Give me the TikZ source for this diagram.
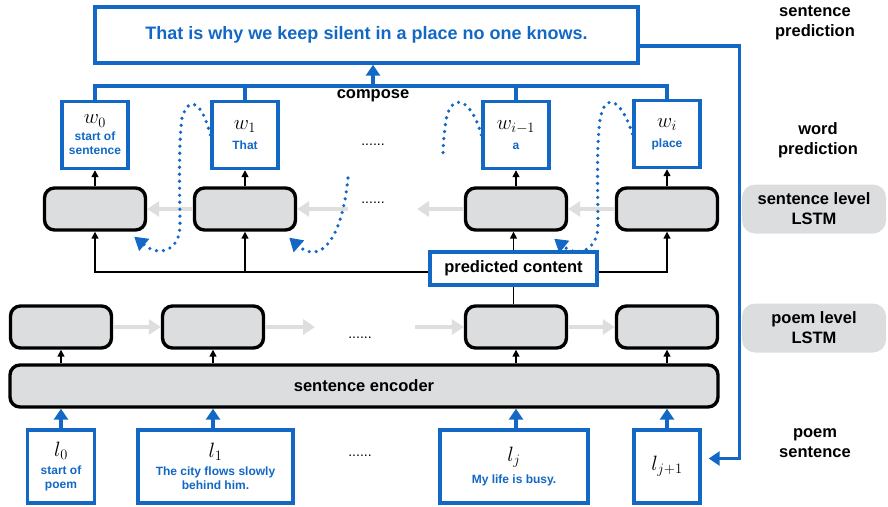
\documentclass[tikz,border=0pt]{standalone}
\usepackage{amsmath}
\usepackage{fontspec}
\setmainfont{Liberation Sans}
\usepackage{tikz}
\usetikzlibrary{arrows.meta,positioning}
\definecolor{netblue}{RGB}{18,104,196}
\definecolor{cellgray}{RGB}{220,221,223}
\definecolor{flowgray}{RGB}{222,222,222}
\newcommand{\tokensym}[1]{{\fontsize{21}{22}\selectfont\color{black}$#1$}}
\tikzset{>={Triangle[length=7pt,width=7pt]},
    cell node/.style={rectangle,rounded corners=10pt,draw=black,fill=cellgray,line width=3.4pt,minimum width=101pt,minimum height=42pt,inner sep=0pt},
    word node/.style={rectangle,draw=netblue,fill=white,line width=3.4pt,minimum width=66pt,minimum height=67pt,inner sep=1pt,align=center,font=\fontsize{12}{14}\selectfont\bfseries\color{netblue}},
    line node/.style={word node,minimum height=73pt},
    side node/.style={rectangle,rounded corners=13pt,fill=cellgray,minimum width=144pt,minimum height=49pt,align=center,font=\fontsize{16.5}{20}\selectfont\bfseries},
    side label/.style={align=center,font=\fontsize{16.5}{20}\selectfont\bfseries},
    dots/.style={inner sep=0pt,font=\fontsize{14}{14}\selectfont},
    edge/.style={line width=1.5pt},
    blue edge/.style={line width=3.4pt,draw=netblue},
    blue arrow/.style={blue edge,-{Triangle[length=11pt,width=14pt]}},
    gray arrow/.style={line width=3.2pt,draw=flowgray,-{Triangle[length=12pt,width=15pt]}},
    dotted curve/.style={line width=3.6pt,draw=netblue,line cap=round,dash pattern=on 0pt off 7pt,-{Triangle[length=13pt,width=15pt]}}}

\begin{document}
\begin{tikzpicture}[x=1pt,y=-1pt]
    \useasboundingbox (0,0) rectangle (888,506);

    \node[rectangle,draw=netblue,line width=3.4pt,minimum width=543pt,minimum height=56pt,font=\fontsize{18}{20}\selectfont\bfseries\color{netblue}] (top) at (366.5,35) {That is why we keep silent in a place no one knows.};

    \node[cell node] (s1) at (95,209) {};
    \node[cell node, on grid] (s2) [right = 150pt of s1] {};
    \node[cell node, on grid] (s3) [right = 271pt of s2] {};
    \node[cell node, on grid] (s4) [right = 151pt of s3] {};

    \node[word node, on grid] (w0) [above = 74pt of s1] {\tokensym{w_0}\\[3pt]start of\\sentence};
    \node[word node, on grid] (w1) [above = 74pt of s2] {\tokensym{w_1}\\[6pt]That};
    \node[word node, on grid] (wim) [above = 74pt of s3] {\tokensym{w_{i-1}}\\[6pt]a};
    \node[word node, on grid] (wi) [above = 75pt of s4] {\tokensym{w_i}\\[6pt]place};

    \node[rectangle,draw=netblue,fill=white,line width=3.4pt,minimum width=167pt,minimum height=33pt,font=\fontsize{16.5}{18}\selectfont\bfseries, on grid] (pc) [below left = 59.5pt and 2.5pt of s3] {predicted content};

    \node[cell node] (p1) at (61,327) {};
    \node[cell node, on grid] (p2) [right = 152pt of p1] {};
    \node[cell node, on grid] (p3) [right = 303pt of p2] {};
    \node[cell node, on grid] (p4) [right = 151pt of p3] {};

    \node[cell node,minimum width=708pt,font=\fontsize{16.5}{18}\selectfont\bfseries] (enc) at (364,386) {sentence encoder};

    \node[line node,minimum width=67pt, on grid] (l0) [below = 139.5pt of p1] {\tokensym{l_0}\\[4pt]start of\\poem};
    \node[line node,minimum width=155pt, on grid] (l1) [below right = 139.5pt and 2.5pt of p2] {\tokensym{l_1}\\[4pt]The city flows slowly\\behind him.};
    \node[line node,minimum width=148pt, on grid] (lj) [below left = 139.5pt and 2pt of p3] {\tokensym{l_j}\\[6pt]My life is busy.};
    \node[line node,minimum width=66pt, on grid] (lj1) [below = 139.5pt of p4] {\tokensym{l_{j+1}}};

    \node[dots] (wdots) at (373,145) {......};
    \node[dots] (sdots) at (373,203) {......};
    \node[dots] (pdots) at (360,338) {......};
    \node[dots] (ldots) at (360,456) {......};

    \node[side label] (sentpred) at (815,23) {sentence\\prediction};
    \node[side label] (wordpred) at (818,140) {word\\prediction};
    \node[side node] (sentlstm) at (814,209) {sentence level\\LSTM};
    \node[side node] (poemlstm) at (814,328) {poem level\\LSTM};
    \node[side label] (poemsent) at (815,443) {poem\\sentence};

    \coordinate (bar) at (373,86);
    \node[side label,anchor=north,inner sep=3pt] (compose) at (bar) {compose};
    \draw[blue edge] (w0.north) |- (bar) -| (wi.north);
    \draw[blue edge] (w1.north) -- (w1.north |- bar);
    \draw[blue edge] (wim.north) -- (wim.north |- bar);
    \draw[blue arrow] (bar) -- (bar |- top.south);
    \draw[blue arrow] ([yshift=-11pt]top.east) -| ([xshift=38pt,yshift=8pt]lj1.east) -- ([xshift=7pt,yshift=8pt]lj1.east);

    \draw[edge,->] (s1.north) -- (w0.south);
    \draw[edge,->] (s2.north) -- (w1.south);
    \draw[edge,->] (s3.north) -- (wim.south);
    \draw[edge,->] (s4.north) -- (s4.north |- wi.south);

    \coordinate (hl) at (0,272);
    \draw[edge,->] ([yshift=-3.5pt]pc.west) -| (s1.south);
    \draw[edge,->] (s2.south |- hl) -- (s2.south);
    \draw[edge,->] ([yshift=-3.5pt]pc.east) -| (s4.south);
    \draw[edge,->] (pc.north) -- (pc.north |- s3.south);
    \draw[edge] (pc.south) -- (pc.south |- p3.north);

    \draw[edge,->] (p1.south |- enc.north) -- (p1.south);
    \draw[edge,->] (p2.south |- enc.north) -- (p2.south);
    \draw[edge,->] (p3.south |- enc.north) -- (p3.south);
    \draw[edge,->] (p4.south |- enc.north) -- (p4.south);

    \draw[blue arrow] (p1.south |- l0.north) -- (p1.south |- enc.south);
    \draw[blue arrow] (p2.south |- l1.north) -- (p2.south |- enc.south);
    \draw[blue arrow] (p3.south |- lj.north) -- (p3.south |- enc.south);
    \draw[blue arrow] (p4.south |- lj1.north) -- (p4.south |- enc.south);

    \coordinate (sg1) at (348,209);
    \coordinate (sg2) at (417,209);
    \draw[gray arrow] (s2.west) -- (s1.east);
    \draw[gray arrow] (sg1) -- (s2.east);
    \draw[gray arrow] (s3.west) -- (sg2);
    \draw[gray arrow] (s4.west) -- (s3.east);

    \coordinate (pg1) at (315,327);
    \coordinate (pg2) at (415,327);
    \draw[gray arrow] (p1.east) -- (p2.west);
    \draw[gray arrow] (p2.east) -- (pg1);
    \draw[gray arrow] (pg2) -- (p3.west);
    \draw[gray arrow] (p3.east) -- (p4.west);

    \coordinate (curvestart) at (348,178);
    \coordinate (curveend) at (443,155);
    \draw[dotted curve] (w1.west) .. controls (203,105) and (190,92) .. (182,118) .. controls (178,150) and (180,200) .. (180,225) .. controls (180,250) and (160,258) .. ([xshift=-13pt,yshift=-5pt]s1.south east);
    \draw[dotted curve] (curvestart) .. controls (342,240) and (320,265) .. ([xshift=-8pt,yshift=-6pt]s2.south east);
    \draw[dotted curve,-] (wim.west) .. controls (472,100) and (452,90) .. (446,120) .. controls (444,135) and (443,145) .. (curveend);
    \draw[dotted curve] (wi.west) .. controls (622,100) and (605,90) .. (600,120) .. controls (596,150) and (598,200) .. (598,225) .. controls (598,250) and (578,258) .. ([xshift=-14pt,yshift=-7pt]s3.south east);
\end{tikzpicture}
\end{document}
